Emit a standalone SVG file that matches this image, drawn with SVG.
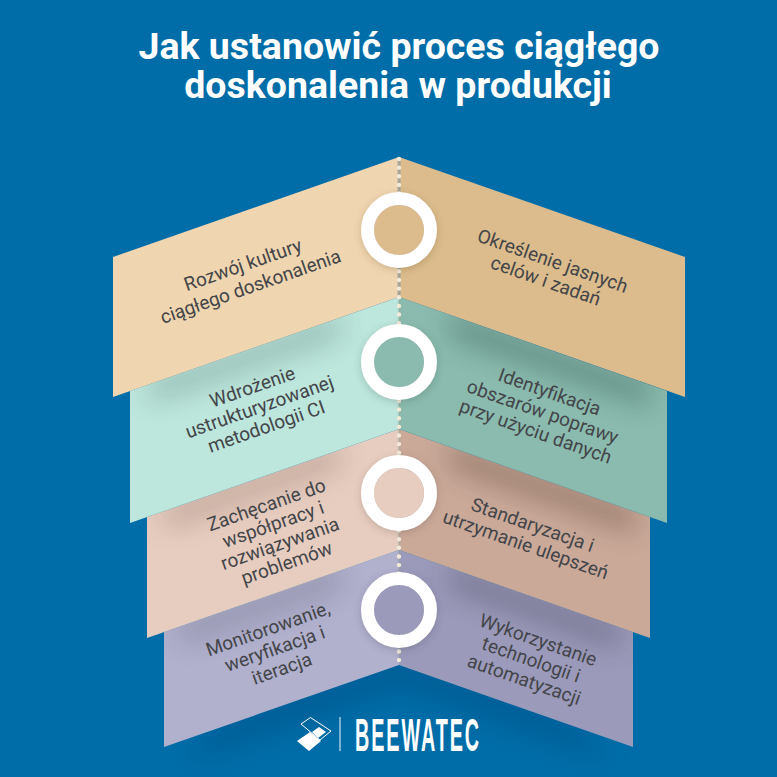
<svg xmlns="http://www.w3.org/2000/svg" width="777" height="777" viewBox="0 0 777 777">
<style>
.t{font-family:"Roboto","Liberation Sans",sans-serif;font-size:19px;fill:#434549;text-anchor:middle}
.h{font-family:"Roboto","Liberation Sans",sans-serif;font-size:37.5px;font-weight:700;fill:#fff;text-anchor:middle}
.ring{fill:none;stroke:#fff;stroke-width:13}
.dots{stroke:#f3ead9;stroke-width:4.4;stroke-linecap:round;stroke-dasharray:0 8.64;fill:none}
.dash{stroke:#8f9a96;stroke-width:3;fill:none}
</style>
<defs>
<filter id="b" x="-40%" y="-60%" width="180%" height="220%"><feGaussianBlur stdDeviation="14"/></filter>
<filter id="rs" x="-30%" y="-30%" width="160%" height="160%"><feGaussianBlur stdDeviation="5"/></filter>
<clipPath id="c2"><polygon points="399,297 130,391 130,523 399,429 667,523 667,391"/></clipPath>
<clipPath id="c3"><polygon points="399,429 147,517 147,638 399,550 650,638 650,517"/></clipPath>
<clipPath id="c4"><polygon points="399,550 164,632 164,747 399,665 633,747 633,632"/></clipPath>
</defs>
<rect width="777" height="777" fill="#006da8"/>
<text class="h"><tspan x="399" y="59">Jak ustanowić proces ciągłego</tspan><tspan x="398" y="98">doskonalenia w produkcji</tspan></text>

<polygon points="230,712 200,738 190,762 400,690 610,762 590,738 570,712 399,652" fill="#003f6e" opacity=".3" filter="url(#b)"/>

<g id="step-4">
<polygon points="399,550 164,632 164,747 399,665" fill="#b1b0cd"/>
<polygon points="399,550 633,632 633,747 399,665" fill="#9b9aba"/>
<g clip-path="url(#c4)">
<polygon points="180,624 340,568 340,588 180,644" fill="#3c3c50" opacity=".28" filter="url(#b)"/>
<polygon points="450,566 620,626 620,648 450,588" fill="#3c3c50" opacity=".42" filter="url(#b)"/>
</g>
<text class="t" transform="translate(270,635) rotate(-19.3)"><tspan x="0" y="0">Monitorowanie,</tspan><tspan x="0" y="21">weryfikacja i</tspan><tspan x="0" y="42">iteracja</tspan></text>
<text class="t" transform="translate(536,646) rotate(19.3)"><tspan x="0" y="0">Wykorzystanie</tspan><tspan x="0" y="21">technologii i</tspan><tspan x="0" y="42">automatyzacji</tspan></text>
</g>

<g id="step-3">
<polygon points="399,429 147,517 147,638 399,550" fill="#e7cdc0"/>
<polygon points="399,429 650,517 650,638 399,550" fill="#caa999"/>
<g clip-path="url(#c3)">
<polygon points="165,508 340,446 340,466 165,528" fill="#4a352c" opacity=".28" filter="url(#b)"/>
<polygon points="450,444 635,510 635,532 450,466" fill="#4a352c" opacity=".42" filter="url(#b)"/>
</g>
<text class="t" transform="translate(268.500,511) rotate(-19.3)"><tspan x="0" y="0">Zachęcanie do</tspan><tspan x="0" y="20.5">współpracy i</tspan><tspan x="0" y="41">rozwiązywania</tspan><tspan x="0" y="61.5">problemów</tspan></text>
<text class="t" transform="translate(530.500,531) rotate(19.3)"><tspan x="0" y="0">Standaryzacja i</tspan><tspan x="0" y="21">utrzymanie ulepszeń</tspan></text>
</g>

<g id="step-2">
<polygon points="399,297 130,391 130,523 399,429" fill="#bde6dc"/>
<polygon points="399,297 667,391 667,523 399,429" fill="#8abbae"/>
<g clip-path="url(#c2)">
<polygon points="150,382 340,316 340,336 150,402" fill="#2c4a44" opacity=".3" filter="url(#b)"/>
<polygon points="450,314 650,384 650,406 450,336" fill="#2c4a44" opacity=".44" filter="url(#b)"/>
</g>
<text class="t" transform="translate(254.500,393) rotate(-19.3)"><tspan x="0" y="0">Wdrożenie</tspan><tspan x="0" y="21">ustrukturyzowanej</tspan><tspan x="0" y="42">metodologii CI</tspan></text>
<text class="t" transform="translate(547.500,398) rotate(19.3)"><tspan x="0" y="0">Identyfikacja</tspan><tspan x="0" y="21">obszarów poprawy</tspan><tspan x="0" y="42">przy użyciu danych</tspan></text>
</g>

<g id="step-1">
<polygon points="399,157 113,257 113,397 399,297" fill="#f0d6b0"/>
<polygon points="399,157 685,257 685,397 399,297" fill="#dcbc8c"/>
<text class="t" transform="translate(245,271) rotate(-19.3)"><tspan x="0" y="0">Rozwój kultury</tspan><tspan x="0" y="23">ciągłego doskonalenia</tspan></text>
<text class="t" transform="translate(550.500,267) rotate(19.3)"><tspan x="0" y="0">Określenie jasnych</tspan><tspan x="0" y="21">celów i zadań</tspan></text>
</g>

<g id="connectors">
<path class="dash" opacity=".75" d="M399,160V297"/>
<path class="dash" opacity=".3" d="M399,297V660"/>
<path class="dots" d="M399,159V661"/>
</g>

<g id="circle-1"><circle cx="399" cy="232" r="37" fill="#3a2a10" opacity=".25" filter="url(#rs)"/><circle cx="399" cy="230" r="25" fill="#dcbc8c"/><circle class="ring" cx="399" cy="230" r="31.5"/></g>
<g id="circle-2"><circle cx="399" cy="364" r="37" fill="#1a302c" opacity=".25" filter="url(#rs)"/><circle cx="399" cy="362" r="25" fill="#8abbae"/><circle class="ring" cx="399" cy="362" r="31.5"/></g>
<g id="circle-3"><circle cx="399" cy="495" r="37" fill="#3a2a20" opacity=".25" filter="url(#rs)"/><circle cx="399" cy="493" r="25" fill="#e7cdc0"/><circle class="ring" cx="399" cy="493" r="31.5"/></g>
<g id="circle-4"><circle cx="399" cy="612" r="37" fill="#25253a" opacity=".25" filter="url(#rs)"/><circle cx="399" cy="610" r="25" fill="#9b9aba"/><circle class="ring" cx="399" cy="610" r="31.5"/></g>

<g id="logo">
<polygon points="297,741 310,732 321,741 309,751" fill="#fff"/>
<polygon points="312,732 319,727 326,732 318,738" fill="#fff"/>
<polygon points="301,724 310.500,717.500 331,731 320,740" fill="none" stroke="#fff" stroke-width="1"/>
<path d="M340,717V751" stroke="#b9d6e6" stroke-width="1.300"/>
<text transform="translate(355,751) scale(.43,1)" font-family="Liberation Sans, Arial, sans-serif" font-weight="700" font-size="46" letter-spacing="4.500" fill="#fff">BEEWATEC</text>
</g>
</svg>
